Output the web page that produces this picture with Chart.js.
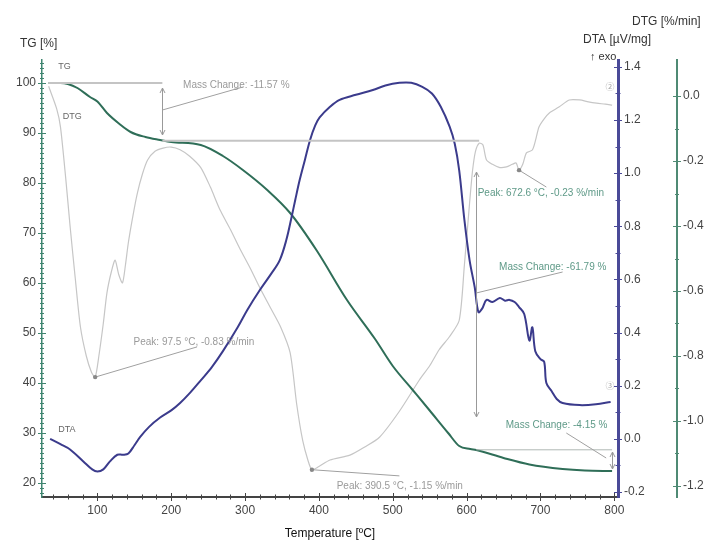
<!DOCTYPE html>
<html lang="en">
<head>
<meta charset="UTF-8">
<title>TG / DTG / DTA</title>
<script src="https://cdn.jsdelivr.net/npm/chart.js"></script>
<style>
  html, body { margin: 0; padding: 0; background: #fff; }
  canvas { display: block; }
</style>
</head>
<body>
<canvas id="chart" width="713" height="542"></canvas>
<script>
// TG [%] vs temperature [°C]
const tgTemp = [34, 50, 60, 73, 90, 100, 113, 130, 145, 165, 185, 200, 240, 270, 297, 330, 361, 397, 438, 476, 500, 527, 550, 575, 590, 605, 613, 650, 685, 730, 760, 797];
const tgMass = [100, 100, 99.8, 99, 97.2, 96.3, 94, 91.8, 90.2, 89.2, 88.6, 88.2, 87.6, 85.4, 82.6, 78.6, 74, 66.5, 56.6, 48.8, 43.4, 38.6, 34.5, 30, 27.4, 26.8, 26.6, 25, 23.7, 22.8, 22.5, 22.4];

// DTA [µV/mg]
const dtaTemp = [36, 50, 63, 81, 93, 100, 108, 117, 127, 135, 142, 150, 158, 170, 185, 200, 212, 226, 240, 255, 270, 290, 303, 320, 335, 347, 356, 363, 368, 374, 381, 388, 395, 401, 415, 428, 450, 473, 490, 509, 525, 540, 553, 565, 577, 584, 590, 597, 604, 611, 616, 621, 627, 635, 645, 652, 658, 665, 671, 678, 685, 689, 693, 700, 705, 708, 715, 722, 730, 753, 775, 795];
const dtaVal = [0.0, -0.02, -0.04, -0.085, -0.115, -0.123, -0.115, -0.085, -0.06, -0.06, -0.055, -0.025, 0.007, 0.045, 0.08, 0.107, 0.135, 0.175, 0.22, 0.27, 0.33, 0.42, 0.485, 0.56, 0.62, 0.673, 0.75, 0.835, 0.9, 0.975, 1.05, 1.125, 1.18, 1.21, 1.25, 1.276, 1.295, 1.313, 1.33, 1.34, 1.34, 1.325, 1.3, 1.25, 1.175, 1.11, 1.01, 0.824, 0.673, 0.57, 0.477, 0.49, 0.523, 0.515, 0.53, 0.52, 0.523, 0.515, 0.496, 0.47, 0.37, 0.42, 0.33, 0.3, 0.29, 0.21, 0.18, 0.15, 0.135, 0.127, 0.13, 0.139];

// DTG [%/min]
const dtgTemp = [34, 45, 50, 57, 63, 70, 77, 85, 92, 97, 102, 108, 113, 119, 124, 129, 134, 138, 142, 148, 154, 161, 168, 178, 189, 200, 212, 225, 240, 253, 266, 280, 293, 307, 320, 334, 348, 361, 370, 378, 385, 390.5, 400, 415, 442, 462, 482, 509, 536, 550, 563, 577, 590, 597, 604, 608, 612, 617, 622, 627, 635, 645, 654, 662, 667, 671, 676, 681, 689, 694, 698, 705, 712, 725, 739, 753, 765, 776, 788, 797];
const dtgVal = [0.03, -0.04, -0.095, -0.25, -0.4, -0.56, -0.71, -0.8, -0.85, -0.865, -0.8, -0.7, -0.605, -0.54, -0.505, -0.55, -0.575, -0.52, -0.45, -0.37, -0.3, -0.24, -0.197, -0.17, -0.16, -0.157, -0.165, -0.185, -0.22, -0.28, -0.35, -0.41, -0.47, -0.53, -0.59, -0.65, -0.71, -0.79, -0.95, -1.06, -1.12, -1.15, -1.14, -1.12, -1.105, -1.08, -1.05, -0.97, -0.874, -0.83, -0.78, -0.74, -0.69, -0.52, -0.33, -0.23, -0.17, -0.145, -0.15, -0.197, -0.21, -0.22, -0.218, -0.21, -0.206, -0.228, -0.21, -0.175, -0.166, -0.13, -0.095, -0.07, -0.052, -0.034, -0.012, -0.012, -0.018, -0.022, -0.025, -0.028];

// axes
const xRange = [25, 805];
const tgRange = [17.2, 104.6];
const dtaRange = [-0.219, 1.426];
const dtgRange = [-1.234, 0.111];

const FONT = "'Liberation Sans', Arial, sans-serif";

function pairs(xs, ys) {
  return xs.map((x, i) => ({ x: x, y: ys[i] }));
}

function fmt1(v) {
  return Math.abs(v) < 1e-9 ? '0.0' : v.toFixed(1);
}

function seg(ctx, x1, y1, x2, y2) {
  ctx.beginPath();
  ctx.moveTo(x1, y1);
  ctx.lineTo(x2, y2);
  ctx.stroke();
}

function head(ctx, x, y, dir) {
  // dir -1: tip points up, 1: tip points down
  ctx.beginPath();
  ctx.moveTo(x - 2.5, y - dir * 5);
  ctx.lineTo(x, y);
  ctx.lineTo(x + 2.5, y - dir * 5);
  ctx.stroke();
}

// small tick marks crossing each axis line
const axisDecor = {
  id: 'axisDecor',
  afterDraw(chart) {
    const { ctx, chartArea: a, scales } = chart;
    ctx.save();
    ctx.lineWidth = 1;

    ctx.strokeStyle = '#444';
    for (let t = 40; t <= 800; t += 20) {
      const px = Math.round(scales.x.getPixelForValue(t)) + 0.5;
      const len = t % 100 === 0 ? 4 : 2.5;
      seg(ctx, px, a.bottom - len, px, a.bottom + len);
    }

    ctx.strokeStyle = '#3f8570';
    for (let v = 18; v <= 104; v += 1) {
      const py = Math.round(scales.yTG.getPixelForValue(v)) + 0.5;
      const len = v % 10 === 0 ? 4 : 2;
      seg(ctx, a.left - len, py, a.left + len, py);
    }

    ctx.strokeStyle = '#4a4a98';
    for (let k = -2; k <= 14; k++) {
      const py = Math.round(scales.yDTA.getPixelForValue(k / 10)) + 0.5;
      const len = k % 2 === 0 ? 4 : 2.5;
      seg(ctx, a.right - len, py, a.right + len, py);
    }

    const xg = scales.yDTG.left;
    ctx.strokeStyle = '#4f8a74';
    for (let k = -12; k <= 0; k++) {
      const py = Math.round(scales.yDTG.getPixelForValue(k / 10)) + 0.5;
      const len = k % 2 === 0 ? 4 : 2;
      seg(ctx, xg - len, py, xg + len, py);
    }

    // axis captions
    ctx.fillStyle = '#333';
    ctx.font = '12px ' + FONT;
    ctx.textBaseline = 'middle';
    ctx.textAlign = 'left';
    ctx.fillText('TG [%]', 20, 44);
    ctx.fillText('DTA [µV/mg]', 583, 40);
    ctx.fillText('DTG [%/min]', 632, 22);
    ctx.font = '11px ' + FONT;
    ctx.fillText('↑ exo', 590, 57);
    ctx.restore();
  }
};

// mass change / peak annotations, placed in data units
const notes = {
  id: 'notes',
  afterDatasetsDraw(chart) {
    const { ctx, scales } = chart;
    const X = t => scales.x.getPixelForValue(t);
    const G = v => scales.yTG.getPixelForValue(v);
    const A = v => scales.yDTA.getPixelForValue(v);
    const D = v => scales.yDTG.getPixelForValue(v);
    ctx.save();

    // reference levels of the TG steps
    ctx.strokeStyle = '#c4c4c4';
    ctx.lineWidth = 2;
    seg(ctx, X(34), G(100), X(188), G(100));
    seg(ctx, X(188), G(88.43), X(617), G(88.43));
    ctx.lineWidth = 1;
    ctx.strokeStyle = '#b0b8b4';
    seg(ctx, X(613), G(26.64), X(797), G(26.64));

    // step arrows
    ctx.strokeStyle = '#999';
    ctx.lineWidth = 1;
    [[188, 99, 89.6], [613, 82.2, 33.2], [797, 26.2, 22.8]].forEach(([t, v1, v2]) => {
      const x = Math.round(X(t)) + 0.5;
      seg(ctx, x, G(v1), x, G(v2));
      head(ctx, x, G(v1), -1);
      head(ctx, x, G(v2), 1);
    });

    // leaders
    ctx.strokeStyle = '#a0a0a0';
    seg(ctx, X(188), G(94.6), X(297), G(99.2));
    seg(ctx, X(613), G(58), X(730), G(62.2));
    seg(ctx, X(735), G(30), X(789), G(25));
    seg(ctx, X(97), D(-0.865), X(235), D(-0.772));
    seg(ctx, X(390.5), D(-1.15), X(509), D(-1.169));
    seg(ctx, X(671), D(-0.228), X(708), D(-0.28));

    // peak markers
    ctx.fillStyle = '#888';
    [[97, -0.865], [390.5, -1.15], [671, -0.228]].forEach(([t, v]) => {
      ctx.beginPath();
      ctx.arc(X(t), D(v), 2.2, 0, Math.PI * 2);
      ctx.fill();
    });

    ctx.font = '10px ' + FONT;
    ctx.textBaseline = 'middle';
    ctx.textAlign = 'left';
    ctx.fillStyle = '#9a9a9a';
    ctx.fillText('Mass Change: -11.57 %', X(216), G(99.6));
    ctx.fillText('Peak: 97.5 °C, -0.83 %/min', X(149), D(-0.757));
    ctx.fillText('Peak: 390.5 °C, -1.15 %/min', X(424), D(-1.2));
    ctx.fillStyle = '#5f9a88';
    ctx.fillText('Peak: 672.6 °C, -0.23 %/min', X(615), D(-0.298));
    ctx.fillText('Mass Change: -61.79 %', X(644), G(63.2));
    ctx.fillText('Mass Change: -4.15 %', X(653), G(31.6));

    // curve names
    ctx.font = '9px ' + FONT;
    ctx.fillStyle = '#666';
    ctx.fillText('TG', X(47), G(103.2));
    ctx.fillText('DTG', X(53), G(93.2));
    ctx.fillText('DTA', X(47), G(30.6));

    // segment end markers
    ctx.font = '9px "Noto Sans CJK JP", "DejaVu Sans"';
    ctx.fillStyle = '#aaa';
    ctx.fillText('②', X(788), D(0.03));
    ctx.fillText('③', X(788), A(0.2));
    ctx.restore();
  }
};

const tickFont = { family: FONT, size: 12 };

new Chart(document.getElementById('chart'), {
  type: 'line',
  data: {
    datasets: [
      { label: 'DTA', data: pairs(dtaTemp, dtaVal), yAxisID: 'yDTA', borderColor: '#3b3b8c', borderWidth: 2, pointRadius: 0, tension: 0.35 },
      { label: 'TG', data: pairs(tgTemp, tgMass), yAxisID: 'yTG', borderColor: '#2f6e58', borderWidth: 2, pointRadius: 0, cubicInterpolationMode: 'monotone' },
      { label: 'DTG', data: pairs(dtgTemp, dtgVal), yAxisID: 'yDTG', borderColor: '#c6c6c6', borderWidth: 1.2, pointRadius: 0, tension: 0.25 }
    ]
  },
  options: {
    responsive: false,
    animation: false,
    events: [],
    layout: { padding: { top: 60, left: 0, right: 0, bottom: 0 } },
    plugins: { legend: { display: false }, tooltip: { enabled: false } },
    scales: {
      x: {
        type: 'linear', min: xRange[0], max: xRange[1],
        afterFit: s => { s.height = 45; },
        ticks: { stepSize: 100, includeBounds: false, padding: 6, color: '#444', font: tickFont, maxRotation: 0 },
        grid: { drawOnChartArea: false, drawTicks: false },
        border: { color: '#444', width: 2 },
        title: { display: true, text: 'Temperature [ºC]', color: '#111', font: tickFont, padding: { top: 2, bottom: 1 } }
      },
      yTG: {
        position: 'left', min: tgRange[0], max: tgRange[1],
        afterFit: s => { s.width = 42; },
        ticks: { stepSize: 10, includeBounds: false, padding: 6, color: '#444', font: tickFont },
        grid: { drawOnChartArea: false, drawTicks: false },
        border: { color: '#3f8570', width: 1.5 }
      },
      yDTA: {
        position: 'right', min: dtaRange[0], max: dtaRange[1],
        afterFit: s => { s.width = 59; },
        ticks: { stepSize: 0.2, includeBounds: false, padding: 6, color: '#444', font: tickFont, callback: fmt1 },
        grid: { drawOnChartArea: false, drawTicks: false },
        border: { color: '#4a4a98', width: 3 }
      },
      yDTG: {
        position: 'right', weight: 1, min: dtgRange[0], max: dtgRange[1],
        afterFit: s => { s.width = 36; },
        ticks: { stepSize: 0.2, includeBounds: false, padding: 6, color: '#444', font: tickFont, callback: fmt1 },
        grid: { drawOnChartArea: false, drawTicks: false },
        border: { color: '#4f8a74', width: 2 }
      }
    }
  },
  plugins: [axisDecor, notes]
});
</script>
</body>
</html>
